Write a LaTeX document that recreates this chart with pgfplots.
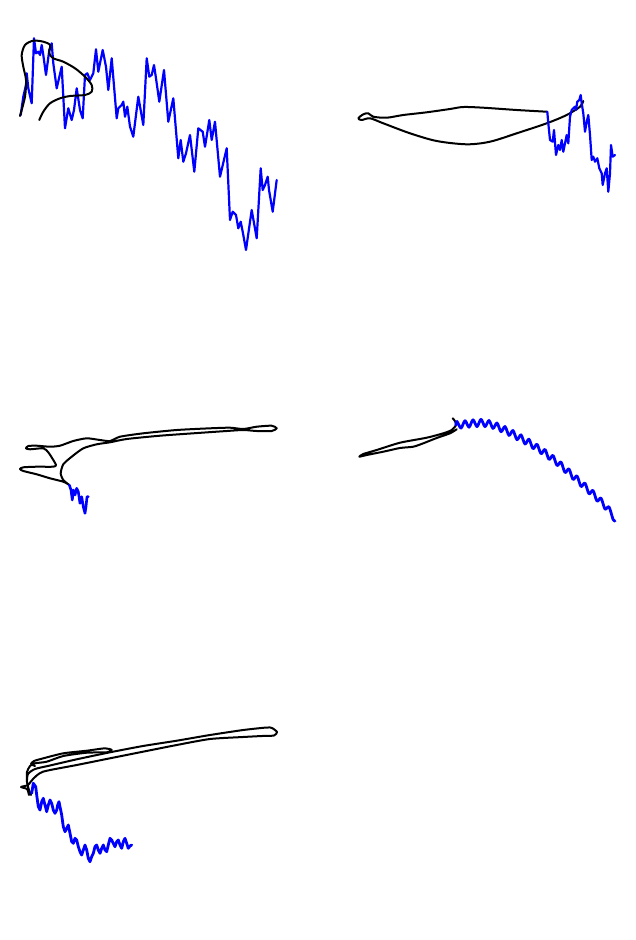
\documentclass[border=0pt]{standalone}
\usepackage{pgfplots}
\pgfplotsset{compat=1.18}
\begin{document}
\begin{tikzpicture}
\begin{axis}[
  width=635pt, height=940pt, scale only axis,
  xmin=0, xmax=635, ymin=0, ymax=940, y dir=reverse,
  hide axis, clip=false,
  every axis plot/.append style={line join=round, line cap=round, mark=none},
]
\addplot[draw=none] coordinates {(0,0) (635,940)};
% ---------- panel 1 ----------
\addplot[blue, line width=2.2pt] coordinates {
(20.7,115) (23.3,96.7) (26,85) (26.7,73.3) (28.3,88.3) (31.7,103.3) (34,38.3) (36,53.3) (38.3,51.7) (40,55) (41.7,45) (43.3,55) (46,75) (49.3,50) (51.7,43.3) (53.3,63.3) (56.7,88.3) (61.7,66.7) (65,128.3) (68.3,108.3) (71.7,120) (74,110) (76.7,88.3) (80,110) (82.7,118.3) (85,75) (87.3,73.3) (90,80) (93.3,73.3) (96,49.3) (98.3,71.7) (102.7,50) (106,66.7) (108.3,90) (111.7,58.3) (116.7,118.3) (118.3,108.3) (121.7,105) (123.3,101.7) (125,116.7) (127.3,106.7) (130,126.7) (133.3,136.7) (138.3,96.7) (143.3,125) (146.7,58.3) (149.3,76.7) (151.7,75) (154,65) (156,78.3) (159.3,101.7) (164,70) (168.3,121.7) (173.3,98.3) (178.3,158.3) (180.7,140) (183.3,161.7) (186,153.3) (190,135) (194.3,171.7) (198.3,128.3) (202.7,131.7) (205,146.7) (209.3,120) (211.7,140) (215,121.7) (220,176.7) (226.7,148.3) (230,220) (232.7,211.7) (236,215) (238.3,228.3) (240.7,221.7) (242.7,231.7) (246,250) (249.3,226.7) (251.7,210) (256.7,238.3) (260.7,168.3) (262.7,190) (265,185) (267.7,176.7) (269,190) (272.7,211.7) (276.7,180)
};
\addplot[black, line width=2pt, smooth, tension=0.5] coordinates {
(20,116) (25,96.7) (26,80) (23.3,66.7) (21.7,55) (25,45) (33.3,40.7) (43.3,41.7) (50,45) (49.3,53.3) (53.3,58.3) (63.3,61.7) (75,68.3) (85,76.7) (91.7,85) (91.7,91.7) (85,95) (70,96) (60,98.3) (50,103.3) (43.3,111.7) (39.3,120)
};
% ---------- panel 2 ----------
\addplot[black, line width=2pt, smooth, tension=0.5] coordinates {
(546.7,111.7) (516.7,110) (483.3,107.7) (463.3,107) (450,109) (426.7,112.3) (403.3,115) (386.7,117.7) (373.3,116.7) (368.3,113.3) (363.3,114.3) (358.3,118.3) (361.7,120) (370,118.3) (383.3,123.3) (410,133.3) (436.7,141) (466.7,144.3) (490,141.7) (516.7,133.3) (546.7,123.3) (566.7,115) (580,106.7) (583.3,101)
};
\addplot[blue, line width=2.2pt] coordinates {
(547.3,111.7) (548.3,123.3) (550,140) (552.7,141.7) (554,130) (556,155) (558.3,145) (560,150) (561.7,140) (563.3,151.7) (566.7,135) (568.3,143.3) (570,116.7) (571.7,110) (573.3,108.3) (575,106.7) (576,110) (577.3,101.7) (579.3,100) (580.7,95) (581.7,103.3) (583.3,113.3) (585,131.7) (586.7,121.7) (588.3,115) (590,135) (591.7,160) (593.3,156.7) (595,161.7) (597.3,158.3) (599.3,168.3) (601.7,173.3) (602.7,185) (605,173.3) (606.7,168.3) (608.3,191.7) (610,173.3) (611,145) (612.7,156.7) (615,155)
};
% ---------- panel 3 ----------
\addplot[black, line width=2pt, smooth, tension=0.4] coordinates {
(69.3,485) (63.3,481.7) (50,478.3) (36.7,474.3) (23.3,471) (20,469) (23.3,467.3) (36.7,466.7) (53.3,466.7) (56,465) (53.3,460) (48.3,452.3) (43.3,448.3) (30,449.3) (26,448.3) (28.3,446) (36.7,445.7) (50,446.7) (60,445.7) (73.3,441) (86.7,438.3) (100,440) (110,441) (120,436.7) (143.3,433.3) (176.7,430) (210,428.3) (230,427.7) (243.3,429) (256.7,426.7) (271.7,425.7) (276.7,428.3) (271.7,431) (256.7,431) (243.3,430) (226.7,431) (193.3,433.3) (160,435.7) (126.7,439) (110,442.3) (96.7,444.3) (83.3,448.3) (71.7,456.7) (63.3,464.3) (60.7,473.3) (63.3,480) (69.3,485)
};
\addplot[blue, line width=2.6pt] coordinates {
(69.3,485) (71,490) (72.3,500) (73.3,490) (75,495) (76.7,488.3) (78.3,491.7) (80,503.3) (81.7,496.7) (83.3,506.7) (85,513.3) (86,506.7) (87,496.7) (88.3,496.7)
};
% ---------- panel 4 ----------
\addplot[black, line width=2pt, smooth, tension=0.4] coordinates {
(456.7,429.3) (450,433.3) (436.7,438) (423.3,443.3) (413.3,446.7) (400,448) (383.3,451.7) (366.7,455) (359.3,456.7) (363.3,454) (376.7,450) (400,442.7) (426.7,437.7) (443.3,433.3) (451.7,430) (456,425) (454.7,420.7) (452.7,418.3)
};
\addplot[blue, line width=2.8pt, smooth, tension=0.5] coordinates {
(456,425) (457,421.5) (461,428.1) (465,420.7) (469,427.2) (473,419.8) (477,426.6) (481,419.3) (485,426.6) (489,420.5) (493,428.4) (497,423.0) (501,431.7) (505,426.5) (509,435.4) (513,430.5) (517,439.7) (521,434.8) (525,444.0) (529,439.2) (533,448.7) (537,444.2) (541,453.7) (545,449.4) (549,459.4) (553,455.4) (557,465.5) (561,462.0) (565,472.5) (569,468.9) (573,479.4) (577,475.9) (581,486.5) (585,483.1) (589,493.8) (593,490.4) (597,501.1) (601,498.1) (605,509.1) (609,506.9) (613,519.2) (615,521)
};
% ---------- panel 5 ----------
\addplot[black, line width=2pt, smooth, tension=0.4] coordinates {
(29,795) (27,789) (21,787) (28,785) (33,779) (43,771.7) (76.7,765) (110,758.3) (143,751.7) (176.7,745) (210,739) (243,737) (262,736) (274,735.5) (277,732) (272,728) (266.7,727.5) (243.3,730) (210,735) (176.7,740.7) (143,746) (110,752.3) (76.7,759.3) (50,765.5) (35,769) (28,774) (27,782) (29,790) (31,795)
};
\addplot[black, line width=2pt, smooth, tension=0.4] coordinates {
(27,780) (27,772) (30,766) (35,763.3) (46.7,761.7) (63.3,756) (86.7,752.7) (106.7,752.3) (111.7,750) (105,748.3) (86.7,750.7) (63.3,753.3) (43.3,758.3) (34,761) (31,764) (35,766)
};
\addplot[blue, line width=2.8pt] coordinates {
(31.7,793.3) (33.3,783.3) (35.7,786.7) (36.7,795) (38.3,806.7) (40,810) (41.7,801.7) (43.3,798.3) (45,805) (46.7,811.7) (48.3,805) (50,800) (51.7,803.3) (53.3,810) (55,813.3) (56.7,810) (57.7,805) (59,801.7) (60,806.7) (61.7,815) (63.3,826.7) (65,831.7) (66.7,828.3) (68.3,825) (70,833.3) (71.7,841.7) (73.3,843.3) (75,838.3) (76.7,840) (78.3,846.7) (80,851.7) (81.7,855) (83.3,850) (85,845) (86.7,850) (88.3,858.3) (90,861.7) (91.7,856.7) (93.3,853.3) (95,846.7) (96.7,845) (98.3,850) (100,853.3) (101.7,848.3) (103.3,845) (105,850) (106.7,851.7) (108.3,845) (110,838.3) (111.7,840) (113.3,843.3) (115,846.7) (116.7,841.7) (118.3,840) (120,845) (121.7,848.3) (123.3,841.7) (125,838.3) (126.7,843.3) (128.3,848.3) (130,846) (131.7,845)
};
\end{axis}
\end{tikzpicture}
\end{document}
